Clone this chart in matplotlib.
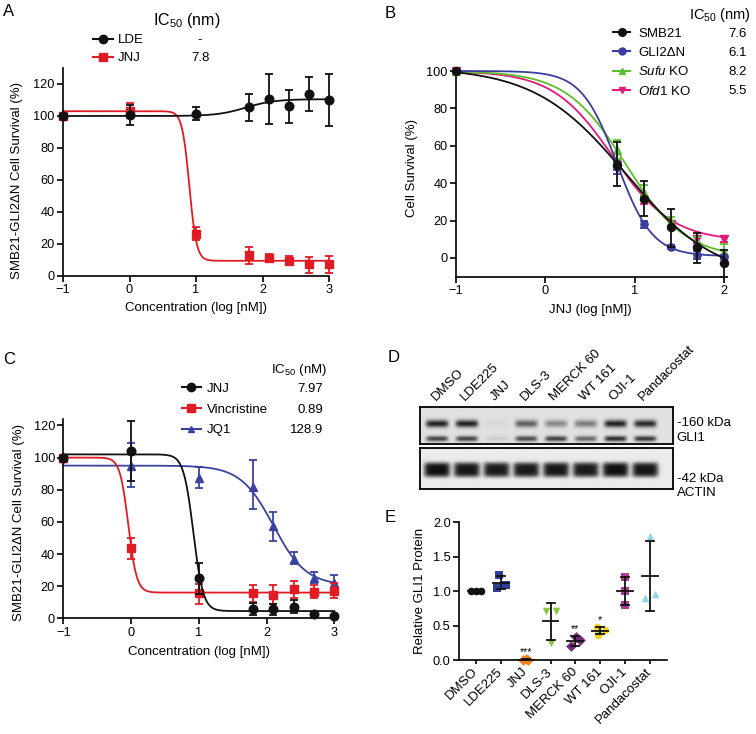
import numpy as np
import matplotlib
matplotlib.use("Agg")
import matplotlib.pyplot as plt
from matplotlib.lines import Line2D
import matplotlib.transforms as mtransforms

plt.rcParams['font.family'] = ['Liberation Sans', 'DejaVu Sans']
plt.rcParams['mathtext.fontset'] = 'custom'
plt.rcParams['mathtext.rm'] = 'Liberation Sans'
plt.rcParams['mathtext.it'] = 'Liberation Sans:italic'
plt.rcParams['mathtext.bf'] = 'Liberation Sans:bold'

# ---------------- data ----------------
# Panel A : SMB21-GLI2dN survival, LDE vs JNJ
a_logconc = [-1, 0, 1, 1.8, 2.1, 2.4, 2.7, 3]
a_lde_mean = [100, 100.5, 101.5, 105.5, 110.5, 106, 113.5, 110]
a_lde_lo = [100, 94.5, 97.5, 97, 95, 95.5, 103, 93.5]
a_lde_hi = [100, 107, 105.5, 114, 126, 116.5, 124.5, 126]
a_jnj_mean = [100, 103, 26, 13, 11.5, 9.5, 7.5, 7.5]
a_jnj_lo = [100, 99, 22.5, 7.5, 9, 7, 2, 2]
a_jnj_hi = [100, 108, 30.5, 18.3, 14, 12.5, 11.7, 12.5]
# fit params: (low-dose plateau, high-dose plateau, logIC50, Hill)
a_lde_fit = [100, 110.5, 1.75, 2.0]
a_jnj_fit = [103, 9.5, 0.9, 8.0]
a_ic50 = ['-', '7.8']

# Panel B : JNJ on four lines
b_logconc = [-1, 0.8, 1.1, 1.4, 1.7, 2.0]
b_smb_mean = [100, 50, 31.6, 16.8, 5.7, -2.5]
b_smb_lo = [100, 38.5, 22.7, 6, -2.9, -10]
b_smb_hi = [100, 62, 41, 26.3, 13.2, 4.5]
b_gli_mean = [100, 48.5, 18, 6, 1.5, 0.5]
b_gli_lo = [100, 45, 16, 5, -0.5, -0.5]
b_gli_hi = [100, 52, 20, 7, 3.5, 1.5]
b_sufu_mean = [100, 58, 35, 19, 8, 3]
b_sufu_lo = [100, 53, 31, 16, 5, 0]
b_sufu_hi = [100, 63, 39, 22, 11, 7.5]
b_ofd_mean = [100, 50, 31, 18, 10, 10]
b_ofd_lo = [100, 47, 29, 16, 8, 8.5]
b_ofd_hi = [100, 53, 33, 20, 12, 11.5]
b_smb_fit = [102, -12, 0.9, 0.85]
b_gli_fit = [100, 1, 0.8, 2.2]
b_sufu_fit = [100, 0, 0.9, 1.3]
b_ofd_fit = [100, 9, 0.75, 1.3]
b_ic50 = ['7.6', '6.1', '8.2', '5.5']

# Panel C : JNJ / Vincristine / JQ1
c_logconc = [-1, 0, 1, 1.8, 2.1, 2.4, 2.7, 3]
c_jnj_mean = [100, 104, 25, 6, 5.5, 7, 2.5, 1.5]
c_jnj_lo = [100, 85.7, 15, 2, 2, 3, 1, 1]
c_jnj_hi = [100, 122.7, 34.7, 9.7, 9, 11.6, 4, 2]
c_vinc_mean = [100, 43.5, 15.5, 15.5, 14.5, 18, 16.5, 17]
c_vinc_lo = [100, 37, 9, 10, 9, 12.5, 12.5, 12.5]
c_vinc_hi = [100, 50, 21.5, 21, 20.5, 23.5, 20.5, 22]
c_jq1_mean = [100, 94.5, 87.5, 81.5, 57.5, 37, 25, 22]
c_jq1_lo = [100, 81.7, 81, 68, 48.2, 33.5, 21.8, 15.6]
c_jq1_hi = [100, 109, 94.2, 98.2, 65.9, 41, 29, 27]
c_jnj_fit = [102, 4.5, 0.92, 6.0]
c_vinc_fit = [100, 16, -0.04, 7.0]
c_jq1_fit = [95, 20.5, 2.1, 1.8]
c_ic50 = ['7.97', '0.89', '128.9']

# Panel D : western blot band intensities (0..1)
d_lanes = ['DMSO', 'LDE225', 'JNJ', 'DLS-3', 'MERCK 60', 'WT 161', 'OJI-1', 'Pandacostat']
d_gli1_upper = [0.92, 0.92, 0.04, 0.62, 0.42, 0.48, 0.92, 0.88]
d_gli1_lower = [0.75, 0.75, 0.1, 0.72, 0.78, 0.58, 0.88, 0.82]
d_actin = [1.0, 0.97, 0.95, 0.95, 0.97, 0.95, 1.0, 0.97]

# Panel E : relative GLI1 protein, 3 replicates
e_groups = ['DMSO', 'LDE225', 'JNJ', 'DLS-3', 'MERCK 60', 'WT 161', 'OJI-1', 'Pandacostat']
e_reps = [[1.0, 1.0, 1.0],
          [1.23, 1.05, 1.09],
          [0.01, 0.02, 0.0],
          [0.72, 0.72, 0.245],
          [0.33, 0.30, 0.20],
          [0.48, 0.44, 0.37],
          [1.2, 1.0, 0.8],
          [1.8, 0.9, 0.96]]
e_jitter = [[-0.2, 0.0, 0.2], [-0.07, -0.16, 0.2], [-0.1, 0.0, 0.1], [-0.2, 0.2, 0.0],
            [0.03, 0.18, -0.16], [-0.15, 0.2, -0.1], [0.0, 0.0, 0.0], [0.0, -0.2, 0.2]]
e_sig = ['', '', '***', '', '**', '*', '', '']
e_colors = ['#111111', '#2f3d9a', '#f08224', '#8cc63f', '#7a2a7a', '#f5d31d', '#b23a95', '#8fd6e3']
e_markers = ['o', 's', 'D', 'v', 'D', 'o', 's', '^']

# ---------------- helpers ----------------
W, H = 756, 734
fig = plt.figure(figsize=(7.56, 7.34), dpi=100)


def fx(px):
    return px / W


def fy(py):
    return 1 - py / H


def rect(x0, y0, x1, y1):
    return [x0 / W, 1 - y1 / H, (x1 - x0) / W, (y1 - y0) / H]


def logistic(x, low, high, x0, hill):
    return high + (low - high) / (1 + 10 ** (hill * (x - x0)))


def style(ax):
    for s in ['top', 'right']:
        ax.spines[s].set_visible(False)
    for s in ['left', 'bottom']:
        ax.spines[s].set_linewidth(1.2)
    ax.tick_params(direction='out', length=4, width=1.2, labelsize=9.2, pad=2)


def series(ax, x, m, lo, hi, fit, color, marker, ms, z, xr):
    xs = np.linspace(xr[0], xr[1], 400)
    ax.plot(xs, logistic(xs, *fit), color=color, lw=1.3, zorder=z, clip_on=False)
    m = np.asarray(m, float)
    yerr = [m - np.asarray(lo, float), np.asarray(hi, float) - m]
    c = ax.errorbar(x, m, yerr=yerr, fmt=marker, color=color, ms=ms, capsize=3,
                    elinewidth=1.3, capthick=1.3, zorder=z + 0.5)
    arts = [c.lines[0]] + list(c.lines[1]) + list(c.lines[2])
    for a in arts:
        if a is not None:
            a.set_clip_on(False)


def handle(color, marker, ms):
    return Line2D([], [], color=color, marker=marker, ms=ms, lw=1.5)


legends = []

# ---------------- Panel A ----------------
axA = fig.add_axes(rect(63, 68, 329, 276))
style(axA)
series(axA, a_logconc, a_jnj_mean, a_jnj_lo, a_jnj_hi, a_jnj_fit, '#e01b24', 's', 5.8, 2, (-1, 3))
series(axA, a_logconc, a_lde_mean, a_lde_lo, a_lde_hi, a_lde_fit, '#111111', 'o', 6.2, 3, (-1, 3))
axA.set_xlim(-1, 3)
axA.set_ylim(0, 130)
axA.set_xticks([-1, 0, 1, 2, 3])
axA.set_yticks([0, 20, 40, 60, 80, 100, 120])
axA.set_xlabel('Concentration (log [nM])', fontsize=9.5)
axA.set_ylabel('SMB21-GLI2\u0394N Cell Survival (%)', fontsize=9.5)
axA.xaxis.set_label_coords(0.5, -0.125)
axA.yaxis.set_label_coords(-0.15, 0.46)
legA = axA.legend([handle('#111111', 'o', 6), handle('#e01b24', 's', 5.5)], ['LDE', 'JNJ'],
                  loc='upper left', bbox_to_anchor=(fx(93), fy(34)), bbox_transform=fig.transFigure,
                  frameon=False, borderpad=0, borderaxespad=0, handlelength=1.5, handletextpad=0.4,
                  labelspacing=0.45, fontsize=9.5)
legends.append((legA, a_ic50, 200, 'center'))
fig.text(fx(187), fy(20), 'IC$_{50}$ (nm)', fontsize=11.5, ha='center', va='center')

# ---------------- Panel B ----------------
axB = fig.add_axes(rect(456, 71, 724.3, 276.7))
style(axB)
series(axB, b_logconc, b_ofd_mean, b_ofd_lo, b_ofd_hi, b_ofd_fit, '#e3197b', 'v', 5.2, 2, (-1, 2))
series(axB, b_logconc, b_sufu_mean, b_sufu_lo, b_sufu_hi, b_sufu_fit, '#5cbf2a', '^', 5.2, 3, (-1, 2))
series(axB, b_logconc, b_gli_mean, b_gli_lo, b_gli_hi, b_gli_fit, '#3a3c9e', 'o', 5.2, 4, (-1, 2))
series(axB, b_logconc, b_smb_mean, b_smb_lo, b_smb_hi, b_smb_fit, '#111111', 'o', 5.8, 5, (-1, 2))
axB.set_xlim(-1, 2)
axB.set_ylim(-10, 100)
axB.set_xticks([-1, 0, 1, 2])
axB.set_yticks([0, 20, 40, 60, 80, 100])
axB.set_xlabel('JNJ (log [nM])', fontsize=9.5)
axB.set_ylabel('Cell Survival (%)', fontsize=9.5)
axB.xaxis.set_label_coords(0.5, -0.135)
axB.yaxis.set_label_coords(-0.14, 0.53)
legB = axB.legend([handle('#111111', 'o', 5.5), handle('#3a3c9e', 'o', 5),
                   handle('#5cbf2a', '^', 5), handle('#e3197b', 'v', 5)],
                  ['SMB21', 'GLI2\u0394N', r'$\mathit{Sufu}$ KO', r'$\mathit{Ofd}$1 KO'],
                  loc='upper left', bbox_to_anchor=(fx(613), fy(27.5)), bbox_transform=fig.transFigure,
                  frameon=False, borderpad=0, borderaxespad=0, handlelength=1.3, handletextpad=0.6,
                  labelspacing=0.5, fontsize=9.5)
legends.append((legB, b_ic50, 746.7, 'right'))
fig.text(fx(720), fy(15), 'IC$_{50}$ (nm)', fontsize=10.5, ha='center', va='center')

# ---------------- Panel C ----------------
axC = fig.add_axes(rect(63.3, 419, 334.3, 618.3))
style(axC)
series(axC, c_logconc, c_jq1_mean, c_jq1_lo, c_jq1_hi, c_jq1_fit, '#3a43a0', '^', 5.2, 2, (-1, 3))
series(axC, c_logconc, c_vinc_mean, c_vinc_lo, c_vinc_hi, c_vinc_fit, '#e01b24', 's', 5.8, 3, (-1, 3))
series(axC, c_logconc, c_jnj_mean, c_jnj_lo, c_jnj_hi, c_jnj_fit, '#111111', 'o', 6.2, 4, (-1, 3))
axC.set_xlim(-1, 3)
axC.set_ylim(0, 124)
axC.set_xticks([-1, 0, 1, 2, 3])
axC.set_yticks([0, 20, 40, 60, 80, 100, 120])
axC.set_xlabel('Concentration (log [nM])', fontsize=9.5)
axC.set_ylabel('SMB21-GLI2\u0394N Cell Survival (%)', fontsize=9.5)
axC.xaxis.set_label_coords(0.5, -0.14)
axC.yaxis.set_label_coords(-0.14, 0.483)
legC = axC.legend([handle('#111111', 'o', 6), handle('#e01b24', 's', 5.5), handle('#3a43a0', '^', 5)],
                  ['JNJ', 'Vincristine', 'JQ1'],
                  loc='upper left', bbox_to_anchor=(fx(181.7), fy(382.5)), bbox_transform=fig.transFigure,
                  frameon=False, borderpad=0, borderaxespad=0, handlelength=1.45, handletextpad=0.45,
                  labelspacing=0.65, fontsize=9.5)
legends.append((legC, c_ic50, 323, 'right'))
fig.text(fx(299), fy(370), 'IC$_{50}$ (nM)', fontsize=9.5, ha='center', va='center')

# ---------------- Panel D (blot) ----------------
lane_w = 29.7
d_xmax = (673.3 - 420) / lane_w
lane_c = 0.57 + np.arange(len(d_lanes))


def blot(ax, bands, bg):
    u = np.linspace(0, d_xmax, 600)
    v = np.linspace(0, 1, 120)
    U, V = np.meshgrid(u, v)
    dark = np.zeros_like(U)
    for intens, vb, vw, pw, hw in bands:
        for c, I in zip(lane_c, intens):
            dark += I * np.exp(-np.abs((U - c) / hw) ** 6) * np.exp(-np.abs((V - vb) / vw) ** pw)
    dark = np.clip(dark, 0, 1)
    img = bg - dark * (bg - 0.06)
    ax.imshow(img, cmap='gray', vmin=0, vmax=1, extent=(0, d_xmax, 1, 0), aspect='auto',
              interpolation='bilinear')
    ax.set_xlim(0, d_xmax)
    ax.set_ylim(1, 0)
    ax.set_xticks([])
    ax.set_yticks([])
    for s in ax.spines.values():
        s.set_linewidth(1.3)


axD1 = fig.add_axes(rect(420, 407.3, 673.3, 444.3))
blot(axD1, [(d_gli1_upper, 0.45, 0.1, 2, 0.38), (d_gli1_lower, 0.86, 0.075, 2, 0.37)], 0.88)
axD2 = fig.add_axes(rect(420, 448.3, 673.3, 489))
blot(axD2, [(d_actin, 0.53, 0.18, 4, 0.44)], 0.92)
trD = mtransforms.blended_transform_factory(axD1.transData, fig.transFigure)
for c, name in zip(lane_c, d_lanes):
    fig.text(c - 0.05, fy(401), name, transform=trD, rotation=45, ha='left', va='baseline',
             rotation_mode='anchor', fontsize=9.5)
fig.text(fx(676.7), fy(423.3), '-160 kDa', fontsize=9.5, va='center', ha='left')
fig.text(fx(676.7), fy(438.3), 'GLI1', fontsize=9.5, va='center', ha='left')
fig.text(fx(676.7), fy(479.3), '-42 kDa', fontsize=9.5, va='center', ha='left')
fig.text(fx(676.7), fy(493.3), 'ACTIN', fontsize=9.5, va='center', ha='left')

# ---------------- Panel E ----------------
axE = fig.add_axes(rect(459, 522.2, 666.7, 660.2))
style(axE)
for i, (reps, jit, col, mk, sig) in enumerate(zip(e_reps, e_jitter, e_colors, e_markers, e_sig)):
    reps = np.asarray(reps)
    axE.scatter(i + np.asarray(jit), reps, s=30, color=col, marker=mk, zorder=2, clip_on=False,
                linewidths=0)
    mu = reps.mean()
    sd = reps.std(ddof=1)
    axE.plot([i - 0.32, i + 0.32], [mu, mu], color='#111111', lw=1.3, zorder=3)
    axE.plot([i, i], [mu - sd, mu + sd], color='#111111', lw=1.3, zorder=3)
    axE.plot([i - 0.16, i + 0.16], [mu - sd, mu - sd], color='#111111', lw=1.3, zorder=3)
    axE.plot([i - 0.16, i + 0.16], [mu + sd, mu + sd], color='#111111', lw=1.3, zorder=3)
    if sig:
        axE.text(i, mu + sd + 0.1, sig, ha='center', va='center', fontsize=7.5)
axE.set_xlim(-0.68, 7.67)
axE.set_ylim(0, 2.0)
axE.set_yticks([0, 0.5, 1.0, 1.5, 2.0])
axE.set_yticklabels(['0.0', '0.5', '1.0', '1.5', '2.0'])
axE.set_xticks(range(len(e_groups)))
axE.set_xticklabels(e_groups, rotation=45, ha='right', va='center', rotation_mode='anchor',
                    fontsize=9.5)
axE.tick_params(axis='x', length=3, pad=4)
axE.set_ylabel('Relative GLI1 Protein', fontsize=9.5)
axE.yaxis.set_label_coords(-0.16, 0.5)

# ---------------- panel letters ----------------
for lab, (px, py) in zip('ABCDE', [(3, 12), (385, 14), (3, 360), (388, 358), (385, 518)]):
    fig.text(fx(px), fy(py), lab, fontsize=12, ha='left', va='center')

# ---------------- legend values ----------------
fig.canvas.draw()
for leg, vals, xpx, ha in legends:
    for t, val in zip(leg.get_texts(), vals):
        bb = t.get_window_extent()
        yc = (bb.y0 + bb.y1) / 2
        fig.text(fx(xpx), yc / fig.bbox.height, val, fontsize=9.5, ha=ha, va='center')

fig.savefig('out.png', dpi=100)
